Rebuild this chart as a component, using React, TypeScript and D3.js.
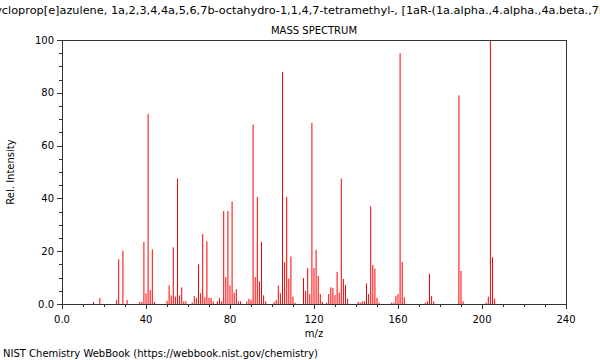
import * as d3 from "d3";

const TITLE =
  "1H-Cycloprop[e]azulene, 1a,2,3,4,4a,5,6,7b-octahydro-1,1,4,7-tetramethyl-, [1aR-(1a.alpha.,4.alpha.,4a.beta.,7b.alpha.)]-";

// m/z values and relative intensities
const MZ = [
  15, 18, 26, 27, 29, 31, 37, 38, 39, 40, 41, 42, 43, 44,
  50, 51, 52, 53, 54, 55, 56, 57, 58, 59,
  62, 63, 64, 65, 66, 67, 68, 69, 70, 71, 72, 74, 75, 76, 77, 78, 79, 80, 81, 82, 83, 84, 85,
  88, 89, 90, 91, 92, 93, 94, 95, 96, 97,
  101, 102, 103, 104, 105, 106, 107, 108, 109, 110, 111,
  115, 116, 117, 118, 119, 120, 121, 122, 123, 124,
  126, 127, 128, 129, 130, 131, 132, 133, 134, 135, 136,
  141, 142, 143, 144, 145, 146, 147, 148, 149, 150, 151,
  157, 158, 159, 160, 161, 162, 163,
  173, 174, 175, 176, 177,
  189, 190, 191,
  202, 203, 204, 205, 206,
];
const INTENSITY = [
  0.8, 2.3, 1.5, 16.9, 20.2, 1.5, 0.8, 0.8, 23.5, 4, 72, 5.3, 20.7, 0.8,
  1.2, 7, 3.3, 21.5, 2.8, 47.5, 3.3, 6.3, 1, 1,
  0.5, 3, 2.3, 15, 4, 26.5, 2.5, 23.7, 2.3, 2.3, 1, 1, 2.3, 1, 35.2, 10.2, 35.2, 7, 38.8, 4.3, 5.6, 1, 1,
  1, 2, 1.5, 68, 10.2, 40.5, 8.6, 23.5, 3.3, 1,
  0.8, 1.5, 7, 4, 87.9, 15.8, 40.5, 9.6, 18, 2.8, 0.5,
  9.8, 5, 13.6, 3.8, 68.6, 13.6, 20.5, 10.6, 3.8, 0.8,
  0.5, 3.8, 6.3, 6, 3.4, 12.2, 4.3, 47.5, 9.5, 7.2, 2,
  0.8, 0.5, 1, 1, 7.8, 3.8, 37, 14.8, 13.4, 2.3, 0.5,
  0.5, 0.5, 3, 3.8, 95, 15.9, 2.5,
  0.5, 1, 11.5, 3, 1,
  79, 12.5, 1,
  0.5, 2.8, 100, 17.7, 2,
];

const X_MAJOR = [0, 40, 80, 120, 160, 200, 240];
const Y_MAJOR = [0, 20, 40, 60, 80, 100];

const W = 600;
const H = 360;
const m = { top: 40, right: 34, bottom: 56, left: 62 };

export default function App() {
  const x = d3.scaleLinear().domain([0, 240]).range([m.left, W - m.right]);
  const y = d3.scaleLinear().domain([0, 100]).range([H - m.bottom, m.top]);
  const xMinor = d3.range(0, 241, 10);
  const yMinor = d3.range(0, 101, 5);
  const axis = "#333";
  const font = "DejaVu Sans, sans-serif";
  const cx = (m.left + W - m.right) / 2;

  return (
    <svg
      width={W}
      height={H}
      style={{ position: "absolute", left: 0, top: 0, background: "#fff" }}
      fontFamily={font}
    >
      {/* the long compound name runs past both edges, as in the original */}
      <text x={cx - 1.5} y={14} fontSize={11.3} textAnchor="middle" fill="#000">
        {TITLE}
      </text>
      <text x={cx} y={34} fontSize={10} textAnchor="middle" fill="#000">
        MASS SPECTRUM
      </text>

      {/* bars */}
      <g fill="#ff0000">
        {MZ.map((mz, i) => (
          <rect
            key={mz}
            x={x(mz) - 0.5}
            width={1}
            y={y(INTENSITY[i])}
            height={y(0) - y(INTENSITY[i])}
          />
        ))}
      </g>

      {/* frame */}
      <rect
        x={x(0)}
        y={y(100)}
        width={x(240) - x(0)}
        height={y(0) - y(100)}
        fill="none"
        stroke={axis}
        strokeWidth={1}
        shapeRendering="crispEdges"
      />

      {/* ticks */}
      <g stroke={axis} shapeRendering="crispEdges">
        {xMinor.map((t) => (
          <line
            key={t}
            x1={Math.round(x(t)) + 0.5}
            x2={Math.round(x(t)) + 0.5}
            y1={y(0)}
            y2={y(0) + (t % 40 === 0 ? 5 : 3)}
          />
        ))}
        {yMinor.map((t) => (
          <line
            key={t}
            x1={x(0) - (t % 20 === 0 ? 5 : 3)}
            x2={x(0)}
            y1={Math.round(y(t)) + 0.5}
            y2={Math.round(y(t)) + 0.5}
          />
        ))}
      </g>
      <g fontSize={10} fill="#000">
        {X_MAJOR.map((t) => (
          <text key={t} x={x(t)} y={y(0) + 19} textAnchor="middle">
            {t === 0 ? "0.0" : t}
          </text>
        ))}
        {Y_MAJOR.map((t) => (
          <text key={t} x={x(0) - 8} y={y(t) + 3.5} textAnchor="end">
            {t === 0 ? "0.0" : t}
          </text>
        ))}
      </g>

      <text x={cx} y={337} fontSize={10} textAnchor="middle" fill="#000">
        m/z
      </text>
      <text
        transform={`translate(14,${(y(0) + y(100)) / 2}) rotate(-90)`}
        fontSize={10}
        textAnchor="middle"
        fill="#000"
      >
        Rel. Intensity
      </text>
      <text x={3} y={357} fontSize={10} fill="#000">
        NIST Chemistry WebBook (https://webbook.nist.gov/chemistry)
      </text>
    </svg>
  );
}
